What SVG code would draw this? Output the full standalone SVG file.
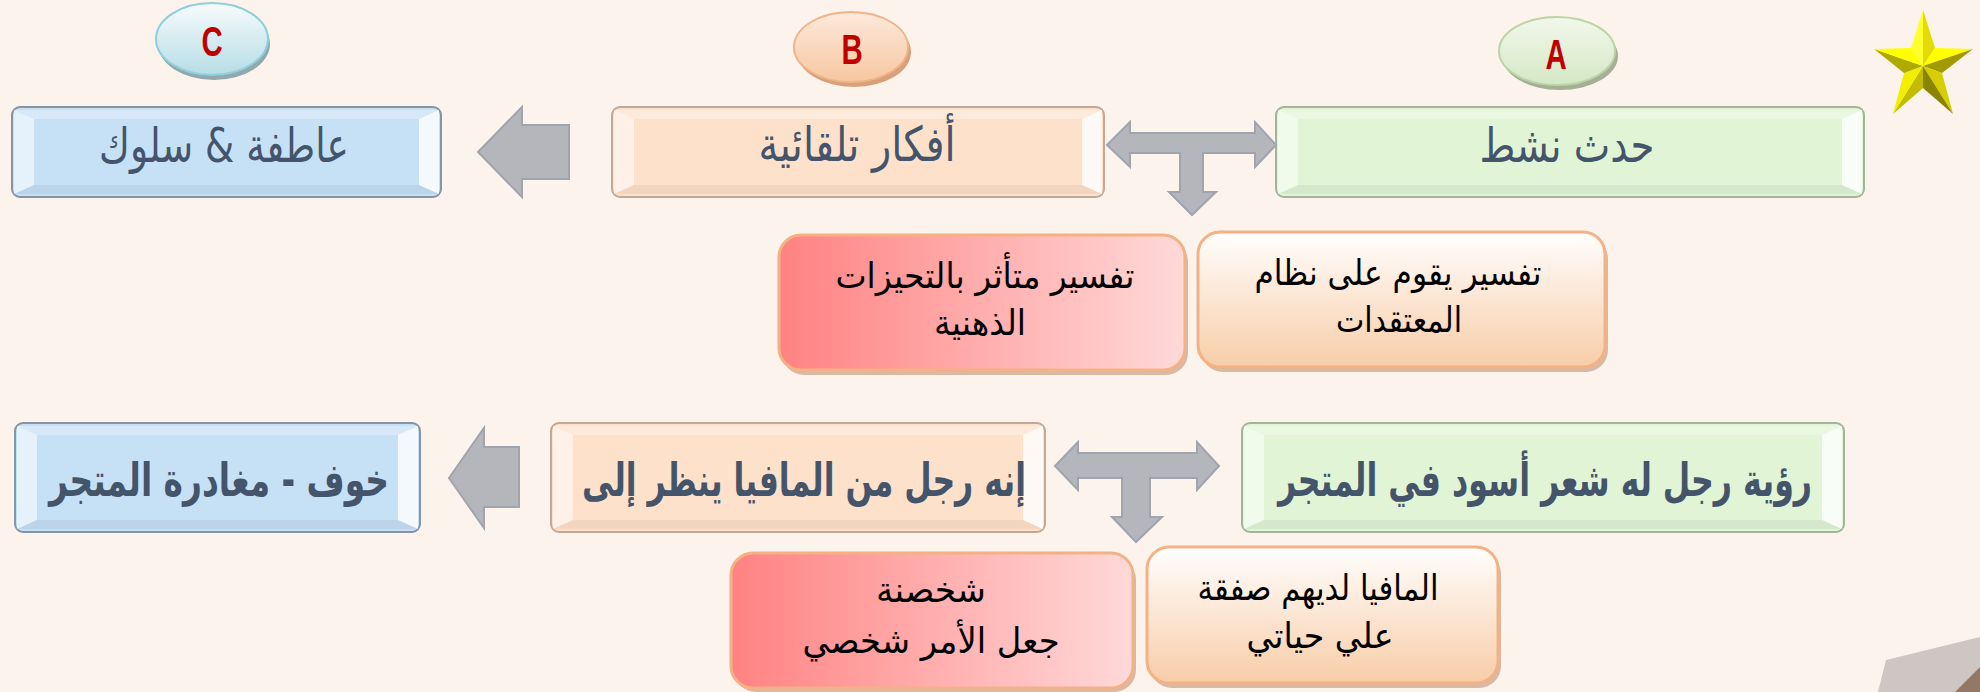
<svg xmlns="http://www.w3.org/2000/svg" width="1980" height="692" viewBox="0 0 1980 692">
<defs>
<linearGradient id="gRed" x1="0" y1="0" x2="1" y2="0"><stop offset="0" stop-color="#ff8282"/><stop offset="1" stop-color="#ffd9d9"/></linearGradient>
<linearGradient id="gPeach" x1="0" y1="0" x2="0" y2="1"><stop offset="0" stop-color="#fffefd"/><stop offset="1" stop-color="#f8cda8"/></linearGradient>
<linearGradient id="gElC" x1="0" y1="0" x2="0" y2="1"><stop offset="0" stop-color="#f7fbfc"/><stop offset="1" stop-color="#b6dde6"/></linearGradient>
<linearGradient id="gElB" x1="0" y1="0" x2="0" y2="1"><stop offset="0" stop-color="#fde9dc"/><stop offset="1" stop-color="#f7c7a0"/></linearGradient>
<linearGradient id="gElA" x1="0" y1="0" x2="0" y2="1"><stop offset="0" stop-color="#f2f8ec"/><stop offset="1" stop-color="#d4e8c4"/></linearGradient>
<style>
.bg{fill:#fcf3ed}
.blue{fill:#c6e0f6;stroke:#8794a2;stroke-width:2}
.peach{fill:#fee1ca;stroke:#c2a898;stroke-width:2}
.green{fill:#e1f5d6;stroke:#a2b59a;stroke-width:2}
.bl{fill:#fff;opacity:.55}
.br{fill:#fff;opacity:.8}
.bt{fill:#fff;opacity:.3}
.bb{fill:#000;opacity:.05}
.arr{fill:#b5b6bc;stroke:#a0a4ad;stroke-width:2}
.bub{stroke:#f4b183;stroke-width:3}
.sh{fill:#c9a085;opacity:.7}
.t1{font-family:"DejaVu Sans",sans-serif;font-size:48px;fill:#44546a;text-anchor:middle;direction:rtl}
.t3{font-family:"DejaVu Sans",sans-serif;font-size:40px;font-weight:bold;fill:#44546a;text-anchor:middle;direction:rtl}
.t2{font-family:"DejaVu Sans",sans-serif;font-size:35px;fill:#000;text-anchor:middle;direction:rtl}
.lt{font-family:"Liberation Sans",Arial,sans-serif;font-size:42px;font-weight:bold;fill:#c00000;text-anchor:middle}
</style>
</defs>
<rect class="bg" x="0" y="0" width="1980" height="692"/>

<!-- badges -->
<g id="badgeC">
<ellipse cx="214" cy="44" rx="56" ry="36" fill="#94a7ad"/>
<ellipse cx="212" cy="39" rx="56" ry="36" fill="url(#gElC)" stroke="#8ecfdc" stroke-width="2"/>
<text class="lt" transform="translate(212,56) scale(0.7,1)">C</text>
</g>
<g id="badgeB">
<ellipse cx="854" cy="52" rx="57" ry="35" fill="#d9a07a"/>
<ellipse cx="851" cy="47" rx="57" ry="35" fill="url(#gElB)" stroke="#f0b488" stroke-width="2"/>
<text class="lt" transform="translate(852,64) scale(0.7,1)">B</text>
</g>
<g id="badgeA">
<ellipse cx="1560" cy="56" rx="58" ry="34" fill="#a6ae96"/>
<ellipse cx="1557" cy="51" rx="58" ry="34" fill="url(#gElA)" stroke="#bcd4a6" stroke-width="2"/>
<text class="lt" transform="translate(1556,69) scale(0.7,1)">A</text>
</g>

<!-- star -->
<g id="star">
<polygon points="1923,66 1923,10 1911,48" fill="#ffff30"/>
<polygon points="1923,66 1923,10 1935,48" fill="#e4dc00"/>
<polygon points="1923,66 1973,49 1935,48" fill="#ffff00"/>
<polygon points="1923,66 1973,49 1942,73" fill="#a29a00"/>
<polygon points="1923,66 1953,114 1942,73" fill="#d6ce00"/>
<polygon points="1923,66 1953,114 1923,88" fill="#8a8400"/>
<polygon points="1923,66 1893,114 1923,88" fill="#c4bc00"/>
<polygon points="1923,66 1893,114 1904,73" fill="#f2ee00"/>
<polygon points="1923,66 1874,49 1904,73" fill="#b0aa00"/>
<polygon points="1923,66 1874,49 1911,48" fill="#ffff00"/>
</g>

<!-- row 1 -->
<g id="nodeC">
<rect class="blue" x="12" y="107" width="429" height="90" rx="8"/>
<polygon class="bl" points="14,110 34,119 34,185 14,194"/>
<polygon class="br" points="439,110 419,119 419,185 439,194"/>
<polygon class="bt" points="14,110 439,110 419,119 34,119"/>
<polygon class="bb" points="14,194 439,194 419,185 34,185"/>
<text class="t1" x="224" y="162" textLength="250" lengthAdjust="spacingAndGlyphs">عاطفة &amp; سلوك</text>
</g>
<g id="nodeB">
<rect class="peach" x="612" y="107" width="492" height="90" rx="8"/>
<polygon class="bl" points="614,110 634,119 634,185 614,194"/>
<polygon class="br" points="1102,110 1082,119 1082,185 1102,194"/>
<polygon class="bt" points="614,110 1102,110 1082,119 634,119"/>
<polygon class="bb" points="614,194 1102,194 1082,185 634,185"/>
<text class="t1" x="857" y="161" textLength="197" lengthAdjust="spacingAndGlyphs">أفكار تلقائية</text>
</g>
<g id="nodeA">
<rect class="green" x="1276" y="107" width="588" height="90" rx="8"/>
<polygon class="bl" points="1278,110 1298,119 1298,185 1278,194"/>
<polygon class="br" points="1862,110 1842,119 1842,185 1862,194"/>
<polygon class="bt" points="1278,110 1862,110 1842,119 1298,119"/>
<polygon class="bb" points="1278,194 1862,194 1842,185 1298,185"/>
<text class="t1" x="1567" y="162" textLength="175" lengthAdjust="spacingAndGlyphs">حدث نشط</text>
</g>

<!-- row 2 bubbles -->
<g id="bias1">
<rect class="sh" x="782" y="240" width="406" height="135" rx="22"/>
<rect class="bub" x="779" y="235" width="406" height="135" rx="22" fill="url(#gRed)"/>
<text class="t2" x="985" y="288" textLength="299" lengthAdjust="spacingAndGlyphs">تفسير متأثر بالتحيزات</text>
<text class="t2" x="980" y="335" textLength="92" lengthAdjust="spacingAndGlyphs">الذهنية</text>
</g>
<g id="belief1">
<rect class="sh" x="1201" y="237" width="407" height="135" rx="22"/>
<rect class="bub" x="1198" y="232" width="407" height="135" rx="22" fill="url(#gPeach)"/>
<text class="t2" x="1398" y="285" textLength="287" lengthAdjust="spacingAndGlyphs">تفسير يقوم على نظام</text>
<text class="t2" x="1399" y="332" textLength="126" lengthAdjust="spacingAndGlyphs">المعتقدات</text>
</g>

<!-- row 3 -->
<g id="node3C">
<rect class="blue" x="15" y="423" width="405" height="109" rx="8"/>
<polygon class="bl" points="17,426 37,435 37,520 17,529"/>
<polygon class="br" points="418,426 398,435 398,520 418,529"/>
<polygon class="bt" points="17,426 418,426 398,435 37,435"/>
<polygon class="bb" points="17,529 418,529 398,520 37,520"/>
<text class="t3" transform="translate(219,496) scale(1,1.15)" textLength="340" lengthAdjust="spacingAndGlyphs">خوف - مغادرة المتجر</text>
</g>
<g id="node3B">
<rect class="peach" x="551" y="423" width="494" height="109" rx="8"/>
<polygon class="bl" points="553,426 573,435 573,520 553,529"/>
<polygon class="br" points="1043,426 1023,435 1023,520 1043,529"/>
<polygon class="bt" points="553,426 1043,426 1023,435 573,435"/>
<polygon class="bb" points="553,529 1043,529 1023,520 573,520"/>
<text class="t3" transform="translate(804,496) scale(1,1.15)" textLength="444" lengthAdjust="spacingAndGlyphs">إنه رجل من المافيا ينظر إلى</text>
</g>
<g id="node3A">
<rect class="green" x="1242" y="423" width="602" height="109" rx="8"/>
<polygon class="bl" points="1244,426 1264,435 1264,520 1244,529"/>
<polygon class="br" points="1842,426 1822,435 1822,520 1842,529"/>
<polygon class="bt" points="1244,426 1842,426 1822,435 1264,435"/>
<polygon class="bb" points="1244,529 1842,529 1822,520 1264,520"/>
<text class="t3" transform="translate(1545,496) scale(1,1.15)" textLength="534" lengthAdjust="spacingAndGlyphs">رؤية رجل له شعر أسود في المتجر</text>
</g>

<!-- row 4 bubbles -->
<g id="bias2">
<rect class="sh" x="734" y="558" width="402" height="134" rx="22"/>
<rect class="bub" x="731" y="553" width="402" height="135" rx="22" fill="url(#gRed)"/>
<text class="t2" x="931" y="602" textLength="110" lengthAdjust="spacingAndGlyphs">شخصنة</text>
<text class="t2" x="931" y="653" textLength="257" lengthAdjust="spacingAndGlyphs">جعل الأمر شخصي</text>
</g>
<g id="belief2">
<rect class="sh" x="1150" y="552" width="351" height="136" rx="22"/>
<rect class="bub" x="1147" y="547" width="351" height="136" rx="22" fill="url(#gPeach)"/>
<text class="t2" x="1318" y="600" textLength="241" lengthAdjust="spacingAndGlyphs">المافيا لديهم صفقة</text>
<text class="t2" x="1320" y="648" textLength="147" lengthAdjust="spacingAndGlyphs">علي حياتي</text>
</g>

<!-- connectors -->
<g id="connectors">
<polygon class="arr" points="478,152 522,107 522,125 569,125 569,179 522,179 522,197"/>
<polygon class="arr" points="1107,145 1130,122 1130,133 1255,133 1255,122 1276,145 1255,167 1255,153 1203,153 1203,192 1216,192 1192,215 1169,192 1180,192 1180,153 1130,153 1130,167"/>
<polygon class="arr" points="449,478 484,428 484,447 519,447 519,507 484,507 484,528"/>
<polygon class="arr" points="1055,466 1078,442 1078,453 1197,453 1197,442 1219,466 1197,490 1197,478 1150,478 1150,517 1162,517 1136,542 1112,517 1122,517 1122,478 1078,478 1078,490"/>
</g>

<!-- corner decoration -->
<g id="corner">
<polygon points="1886,660 1980,637 1980,692 1878,692" fill="#cdc6c2"/>
<polygon points="1980,667 1955,692 1980,692" fill="#937866"/>
</g>
</svg>
